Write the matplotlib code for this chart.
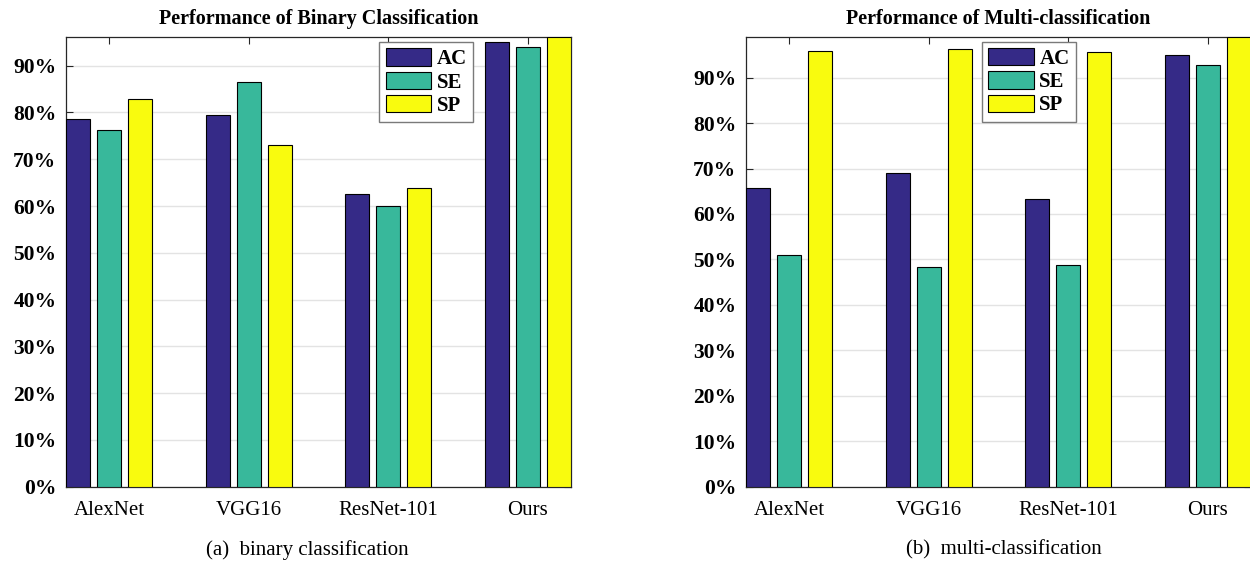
import matplotlib
matplotlib.use("Agg")
import matplotlib.pyplot as plt
import numpy as np

models = ["AlexNet", "VGG16", "ResNet-101", "Ours"]
metrics = ["AC", "SE", "SP"]

binary_ac = [78.7, 79.5, 62.5, 95.0]
binary_se = [76.2, 86.6, 60.1, 94.0]
binary_sp = [82.9, 73.1, 63.8, 96.2]

multi_ac = [65.7, 69.1, 63.4, 95.0]
multi_se = [50.9, 48.3, 48.8, 92.7]
multi_sp = [95.9, 96.2, 95.7, 99.0]

yticks = [0, 10, 20, 30, 40, 50, 60, 70, 80, 90]
ytick_labels = ["0%", "10%", "20%", "30%", "40%", "50%", "60%", "70%", "80%", "90%"]

titles = ["Performance of Binary Classification", "Performance of Multi-classification"]
captions = ["(a)  binary classification", "(b)  multi-classification"]

colors = ["#352a87", "#38b89b", "#f9fb0e"]

plt.rcParams["font.family"] = ["Liberation Serif", "DejaVu Serif"]

fig = plt.figure(figsize=(12.5, 5.84), dpi=100)

axes_rects = [
    [66 / 1250, 97.3 / 584, 505 / 1250, 450 / 584],
    [746 / 1250, 97.3 / 584, 505 / 1250, 450 / 584],
]
legend_anchor = [(0.806, 0.988), (0.653, 0.989)]
caption_x = [0.246, 0.803]

datasets = [
    [binary_ac, binary_se, binary_sp],
    [multi_ac, multi_se, multi_sp],
]

bar_w = 0.172
step = 0.2225
x = np.arange(1, len(models) + 1)
axis_col = "#262626"

for i, (rect, data) in enumerate(zip(axes_rects, datasets)):
    ax = fig.add_axes(rect)
    for j, (vals, col, lab) in enumerate(zip(data, colors, metrics)):
        ax.bar(x + (j - 1) * step, vals, width=bar_w, color=col,
               edgecolor="black", linewidth=0.8, label=lab, zorder=3)
    half = step + bar_w / 2
    ax.set_xlim(1 - half, len(models) + half)
    ymax = max(max(d) for d in data)
    ax.set_ylim(0, ymax)
    ax.set_xticks(x)
    ax.set_xticklabels(models, fontsize=15)
    ax.set_yticks(yticks)
    ax.set_yticklabels(ytick_labels, fontsize=15.5, fontweight="bold")
    ax.tick_params(axis="both", direction="in", length=5, width=0.8,
                   color=axis_col, top=True, right=True, pad=7)
    ax.tick_params(axis="x", pad=10)
    ax.grid(axis="y", color="#e3e3e3", linewidth=1.0, zorder=0)
    ax.set_axisbelow(True)
    for s in ax.spines.values():
        s.set_color(axis_col)
        s.set_linewidth(0.9)
    ax.set_title(titles[i], fontsize=14.5, fontweight="bold", pad=9)
    leg = ax.legend(loc="upper right", bbox_to_anchor=legend_anchor[i],
                    borderaxespad=0, fancybox=False, framealpha=1,
                    edgecolor="#7a7a7a", prop={"size": 15, "weight": "bold"},
                    handlelength=2.2, handleheight=0.9, handletextpad=0.25,
                    labelspacing=0.12, borderpad=0.3)
    leg.get_frame().set_linewidth(1.0)
    leg.set_zorder(5)
    fig.text(caption_x[i], 0.058, captions[i], fontsize=15, ha="center", va="center")

fig.savefig("out.png", dpi=100)
